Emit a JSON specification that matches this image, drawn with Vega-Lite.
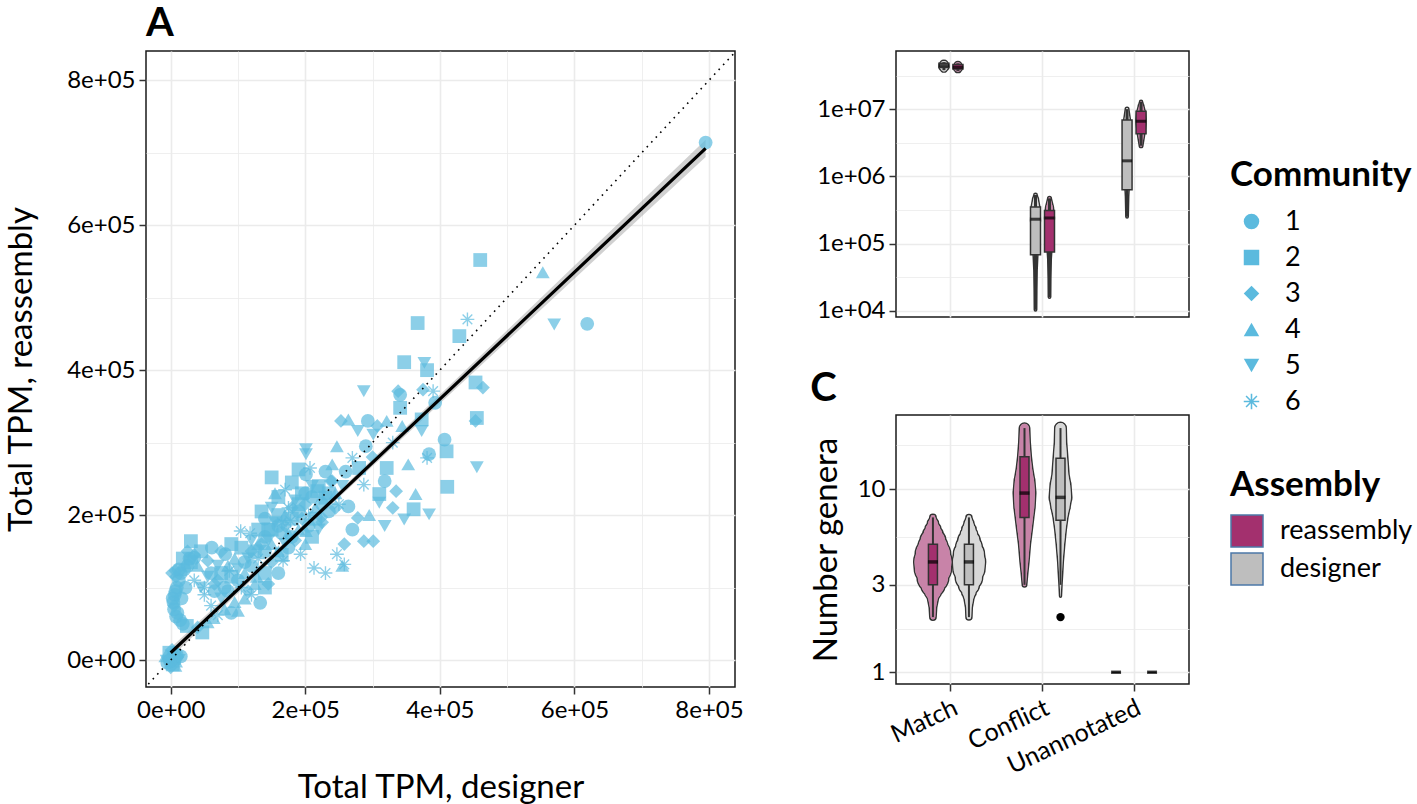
{
"$schema": "https://vega.github.io/schema/vega-lite/v6.json",
"background": "white",
"padding": {"left": 4, "top": 3, "right": 0, "bottom": 0},
"bounds": "flush",
"spacing": 161,
"config": {
  "font": "Lato",
  "view": {"stroke": "#1A1A1A", "strokeWidth": 1.5},
  "axis": {"gridColor": "#EBEBEB", "domain": false, "tickColor": "#333333", "tickSize": 7, "tickWidth": 1.5, "labelColor": "#000000", "labelFontSize": 24, "labelPadding": 4, "titleFontSize": 33, "titleFontWeight": "normal", "titleColor": "#000000", "labelOverlap": false, "labelFlush": false},
  "legend": {"titleFontSize": 35, "titleFontWeight": "bold", "titleColor": "#000000", "labelFontSize": 27, "labelColor": "#000000", "titleLimit": 400, "labelLimit": 300},
  "title": {"fontSize": 40, "fontWeight": "bold", "anchor": "start", "color": "#000000"}
},
"datasets": {
  "scatter": [
    {"designer":2000,"reassembly":1000,"community":"1"},{"designer":5000,"reassembly":3000,"community":"2"},{"designer":-3000,"reassembly":2000,"community":"3"},{"designer":8000,"reassembly":-2000,"community":"4"},{"designer":1000,"reassembly":6000,"community":"5"},{"designer":-5000,"reassembly":-4000,"community":"1"},{"designer":10000,"reassembly":4000,"community":"3"},{"designer":3000,"reassembly":-6000,"community":"2"},{"designer":-8000,"reassembly":5000,"community":"4"},{"designer":6000,"reassembly":9000,"community":"1"},{"designer":12000,"reassembly":0,"community":"5"},{"designer":0,"reassembly":-10000,"community":"3"},{"designer":-2000,"reassembly":10000,"community":"2"},{"designer":4000,"reassembly":2000,"community":"6"},{"designer":9000,"reassembly":7000,"community":"1"},{"designer":-6000,"reassembly":-1000,"community":"5"},{"designer":15000,"reassembly":5000,"community":"1"},{"designer":7000,"reassembly":-8000,"community":"4"},{"designer":2000,"reassembly":14000,"community":"3"},{"designer":-1000,"reassembly":-2000,"community":"1"},
    {"designer":8000,"reassembly":60000,"community":"1"},{"designer":5000,"reassembly":70000,"community":"1"},{"designer":4000,"reassembly":80000,"community":"1"},{"designer":6000,"reassembly":90000,"community":"1"},{"designer":9000,"reassembly":100000,"community":"1"},{"designer":12000,"reassembly":110000,"community":"1"},{"designer":5000,"reassembly":75000,"community":"3"},{"designer":14000,"reassembly":55000,"community":"1"},{"designer":18000,"reassembly":50000,"community":"1"},{"designer":10000,"reassembly":65000,"community":"1"},{"designer":3000,"reassembly":85000,"community":"1"},{"designer":7000,"reassembly":95000,"community":"1"},{"designer":15000,"reassembly":120000,"community":"1"},{"designer":20000,"reassembly":125000,"community":"1"},{"designer":25000,"reassembly":130000,"community":"1"},{"designer":8000,"reassembly":115000,"community":"3"},{"designer":2000,"reassembly":120000,"community":"3"},{"designer":12000,"reassembly":125000,"community":"1"},{"designer":18000,"reassembly":140000,"community":"2"},{"designer":28000,"reassembly":140000,"community":"1"},{"designer":30000,"reassembly":164000,"community":"2"},{"designer":35000,"reassembly":145000,"community":"3"},{"designer":22000,"reassembly":100000,"community":"1"},{"designer":16000,"reassembly":85000,"community":"1"},
    {"designer":24000,"reassembly":47000,"community":"2"},{"designer":47000,"reassembly":38000,"community":"2"},{"designer":40000,"reassembly":45000,"community":"3"},{"designer":55000,"reassembly":52000,"community":"4"},{"designer":64000,"reassembly":58000,"community":"4"},{"designer":70000,"reassembly":62000,"community":"6"},{"designer":80000,"reassembly":70000,"community":"4"},{"designer":90000,"reassembly":65000,"community":"1"},{"designer":100000,"reassembly":68000,"community":"4"},{"designer":95000,"reassembly":80000,"community":"4"},{"designer":110000,"reassembly":85000,"community":"4"},{"designer":120000,"reassembly":90000,"community":"6"},{"designer":133000,"reassembly":79000,"community":"1"},{"designer":60000,"reassembly":75000,"community":"6"},{"designer":75000,"reassembly":85000,"community":"5"},{"designer":85000,"reassembly":95000,"community":"1"},{"designer":105000,"reassembly":100000,"community":"6"},{"designer":115000,"reassembly":95000,"community":"3"},{"designer":125000,"reassembly":105000,"community":"4"},{"designer":140000,"reassembly":100000,"community":"2"},{"designer":50000,"reassembly":90000,"community":"6"},{"designer":45000,"reassembly":100000,"community":"5"},{"designer":35000,"reassembly":110000,"community":"6"},{"designer":65000,"reassembly":105000,"community":"3"},
    {"designer":7000,"reassembly":123000,"community":"3"},{"designer":55000,"reassembly":137000,"community":"3"},{"designer":61000,"reassembly":155000,"community":"1"},{"designer":81000,"reassembly":146000,"community":"1"},{"designer":35000,"reassembly":141000,"community":"1"},{"designer":50000,"reassembly":100000,"community":"6"},{"designer":87000,"reassembly":123000,"community":"6"},{"designer":104000,"reassembly":178000,"community":"6"},{"designer":40000,"reassembly":130000,"community":"4"},{"designer":70000,"reassembly":130000,"community":"5"},{"designer":95000,"reassembly":140000,"community":"4"},{"designer":90000,"reassembly":160000,"community":"2"},{"designer":75000,"reassembly":150000,"community":"3"},{"designer":45000,"reassembly":150000,"community":"2"},{"designer":25000,"reassembly":150000,"community":"3"},{"designer":30000,"reassembly":135000,"community":"2"},
    {"designer":110000,"reassembly":120000,"community":"4"},{"designer":120000,"reassembly":130000,"community":"1"},{"designer":125000,"reassembly":150000,"community":"2"},{"designer":130000,"reassembly":140000,"community":"6"},{"designer":135000,"reassembly":160000,"community":"3"},{"designer":140000,"reassembly":170000,"community":"1"},{"designer":145000,"reassembly":180000,"community":"2"},{"designer":150000,"reassembly":160000,"community":"4"},{"designer":155000,"reassembly":190000,"community":"5"},{"designer":160000,"reassembly":200000,"community":"2"},{"designer":165000,"reassembly":175000,"community":"1"},{"designer":170000,"reassembly":185000,"community":"3"},{"designer":175000,"reassembly":210000,"community":"6"},{"designer":180000,"reassembly":195000,"community":"2"},{"designer":185000,"reassembly":220000,"community":"5"},{"designer":190000,"reassembly":205000,"community":"1"},{"designer":195000,"reassembly":230000,"community":"2"},{"designer":200000,"reassembly":215000,"community":"3"},{"designer":205000,"reassembly":200000,"community":"6"},{"designer":210000,"reassembly":225000,"community":"1"},{"designer":215000,"reassembly":210000,"community":"4"},{"designer":220000,"reassembly":240000,"community":"2"},{"designer":225000,"reassembly":190000,"community":"3"},{"designer":230000,"reassembly":224000,"community":"2"},{"designer":235000,"reassembly":205000,"community":"1"},{"designer":240000,"reassembly":247000,"community":"3"},{"designer":245000,"reassembly":230000,"community":"4"},{"designer":250000,"reassembly":215000,"community":"6"},{"designer":255000,"reassembly":240000,"community":"5"},{"designer":150000,"reassembly":252000,"community":"2"},{"designer":190000,"reassembly":263000,"community":"2"},{"designer":207000,"reassembly":265000,"community":"6"},{"designer":201000,"reassembly":256000,"community":"1"},{"designer":218000,"reassembly":233000,"community":"2"},{"designer":238000,"reassembly":247000,"community":"3"},{"designer":201000,"reassembly":284000,"community":"5"},{"designer":201000,"reassembly":291000,"community":"5"},{"designer":178000,"reassembly":192000,"community":"6"},{"designer":201000,"reassembly":178000,"community":"4"},{"designer":224000,"reassembly":197000,"community":"3"},{"designer":193000,"reassembly":146000,"community":"6"},{"designer":167000,"reassembly":137000,"community":"6"},{"designer":213000,"reassembly":127000,"community":"6"},{"designer":230000,"reassembly":120000,"community":"6"},{"designer":247000,"reassembly":146000,"community":"6"},{"designer":258000,"reassembly":132000,"community":"6"},{"designer":255000,"reassembly":130000,"community":"4"},{"designer":160000,"reassembly":150000,"community":"4"},{"designer":170000,"reassembly":160000,"community":"5"},{"designer":180000,"reassembly":170000,"community":"1"},{"designer":190000,"reassembly":180000,"community":"4"},{"designer":140000,"reassembly":120000,"community":"2"},{"designer":150000,"reassembly":135000,"community":"3"},{"designer":165000,"reassembly":145000,"community":"2"},{"designer":175000,"reassembly":155000,"community":"1"},{"designer":185000,"reassembly":165000,"community":"3"},{"designer":120000,"reassembly":165000,"community":"5"},{"designer":130000,"reassembly":180000,"community":"2"},{"designer":140000,"reassembly":195000,"community":"1"},{"designer":150000,"reassembly":210000,"community":"5"},{"designer":160000,"reassembly":225000,"community":"2"},{"designer":170000,"reassembly":235000,"community":"6"},{"designer":180000,"reassembly":245000,"community":"2"},{"designer":115000,"reassembly":140000,"community":"5"},{"designer":128000,"reassembly":115000,"community":"4"},{"designer":145000,"reassembly":105000,"community":"3"},{"designer":160000,"reassembly":120000,"community":"1"},{"designer":200000,"reassembly":160000,"community":"4"},{"designer":210000,"reassembly":170000,"community":"2"},{"designer":220000,"reassembly":180000,"community":"5"},{"designer":105000,"reassembly":155000,"community":"2"},{"designer":118000,"reassembly":175000,"community":"6"},{"designer":135000,"reassembly":205000,"community":"2"},{"designer":155000,"reassembly":230000,"community":"4"},
    {"designer":60000,"reassembly":120000,"community":"1"},{"designer":70000,"reassembly":110000,"community":"3"},{"designer":80000,"reassembly":100000,"community":"1"},{"designer":90000,"reassembly":115000,"community":"2"},{"designer":100000,"reassembly":125000,"community":"5"},{"designer":110000,"reassembly":135000,"community":"1"},{"designer":120000,"reassembly":150000,"community":"3"},{"designer":130000,"reassembly":160000,"community":"4"},{"designer":140000,"reassembly":150000,"community":"1"},{"designer":150000,"reassembly":180000,"community":"2"},{"designer":160000,"reassembly":185000,"community":"1"},{"designer":170000,"reassembly":200000,"community":"4"},{"designer":180000,"reassembly":210000,"community":"3"},{"designer":190000,"reassembly":215000,"community":"2"},{"designer":200000,"reassembly":230000,"community":"1"},{"designer":210000,"reassembly":240000,"community":"5"},{"designer":225000,"reassembly":215000,"community":"1"},{"designer":235000,"reassembly":230000,"community":"2"},{"designer":245000,"reassembly":210000,"community":"3"},{"designer":100000,"reassembly":110000,"community":"1"},{"designer":85000,"reassembly":130000,"community":"4"},{"designer":65000,"reassembly":95000,"community":"1"},{"designer":55000,"reassembly":115000,"community":"5"},{"designer":75000,"reassembly":120000,"community":"2"},{"designer":195000,"reassembly":195000,"community":"3"},{"designer":205000,"reassembly":185000,"community":"1"},{"designer":215000,"reassembly":195000,"community":"2"},{"designer":175000,"reassembly":175000,"community":"4"},{"designer":165000,"reassembly":190000,"community":"6"},{"designer":145000,"reassembly":165000,"community":"5"},
    {"designer":253000,"reassembly":330000,"community":"3"},{"designer":264000,"reassembly":332000,"community":"4"},{"designer":293000,"reassembly":330000,"community":"1"},{"designer":307000,"reassembly":323000,"community":"3"},{"designer":321000,"reassembly":330000,"community":"4"},{"designer":344000,"reassembly":323000,"community":"4"},{"designer":373000,"reassembly":332000,"community":"2"},{"designer":278000,"reassembly":316000,"community":"5"},{"designer":301000,"reassembly":311000,"community":"5"},{"designer":373000,"reassembly":316000,"community":"5"},{"designer":247000,"reassembly":295000,"community":"4"},{"designer":290000,"reassembly":295000,"community":"1"},{"designer":407000,"reassembly":304000,"community":"1"},{"designer":384000,"reassembly":284000,"community":"1"},{"designer":381000,"reassembly":279000,"community":"6"},{"designer":410000,"reassembly":288000,"community":"2"},{"designer":270000,"reassembly":279000,"community":"6"},{"designer":353000,"reassembly":270000,"community":"4"},{"designer":321000,"reassembly":265000,"community":"2"},{"designer":318000,"reassembly":247000,"community":"1"},{"designer":287000,"reassembly":242000,"community":"6"},{"designer":264000,"reassembly":212000,"community":"1"},{"designer":310000,"reassembly":229000,"community":"2"},{"designer":335000,"reassembly":233000,"community":"3"},{"designer":364000,"reassembly":229000,"community":"4"},{"designer":411000,"reassembly":239000,"community":"2"},{"designer":287000,"reassembly":371000,"community":"5"},{"designer":338000,"reassembly":371000,"community":"3"},{"designer":341000,"reassembly":366000,"community":"1"},{"designer":375000,"reassembly":373000,"community":"3"},{"designer":390000,"reassembly":371000,"community":"6"},{"designer":341000,"reassembly":348000,"community":"2"},{"designer":393000,"reassembly":355000,"community":"1"},{"designer":347000,"reassembly":411000,"community":"2"},{"designer":377000,"reassembly":410000,"community":"5"},{"designer":381000,"reassembly":400000,"community":"2"},{"designer":260000,"reassembly":260000,"community":"1"},{"designer":280000,"reassembly":265000,"community":"2"},{"designer":300000,"reassembly":280000,"community":"3"},{"designer":240000,"reassembly":270000,"community":"4"},{"designer":230000,"reassembly":260000,"community":"1"},{"designer":330000,"reassembly":300000,"community":"6"},
    {"designer":310000,"reassembly":217000,"community":"5"},{"designer":361000,"reassembly":208000,"community":"2"},{"designer":384000,"reassembly":201000,"community":"5"},{"designer":347000,"reassembly":194000,"community":"5"},{"designer":318000,"reassembly":185000,"community":"5"},{"designer":278000,"reassembly":196000,"community":"3"},{"designer":258000,"reassembly":160000,"community":"3"},{"designer":287000,"reassembly":164000,"community":"3"},{"designer":301000,"reassembly":164000,"community":"3"},{"designer":270000,"reassembly":180000,"community":"1"},{"designer":295000,"reassembly":200000,"community":"4"},{"designer":330000,"reassembly":210000,"community":"3"},{"designer":455000,"reassembly":266000,"community":"5"},
    {"designer":453000,"reassembly":383000,"community":"2"},{"designer":464000,"reassembly":376000,"community":"3"},{"designer":455000,"reassembly":334000,"community":"2"},{"designer":453000,"reassembly":330000,"community":"3"},{"designer":429000,"reassembly":447000,"community":"2"},{"designer":367000,"reassembly":465000,"community":"2"},{"designer":441000,"reassembly":470000,"community":"6"},{"designer":460000,"reassembly":552000,"community":"2"},{"designer":553000,"reassembly":535000,"community":"4"},{"designer":570000,"reassembly":463000,"community":"5"},{"designer":619000,"reassembly":464000,"community":"1"},{"designer":795000,"reassembly":714000,"community":"1"}
  ],
  "fit": [
    {"designer": 0, "reassembly": 10000, "lo": 3000, "hi": 17000},
    {"designer": 200000, "reassembly": 185000, "lo": 181000, "hi": 189000},
    {"designer": 400000, "reassembly": 360000, "lo": 354000, "hi": 366000},
    {"designer": 795000, "reassembly": 706000, "lo": 694000, "hi": 718000}
  ],
  "ident": [
    {"designer": -40000, "reassembly": -40000},
    {"designer": 850000, "reassembly": 850000}
  ],
  "boxB": [
    {"category":"Match","assembly":"designer","lower":38000000,"q1":41500000,"median":44500000,"q3":48000000,"upper":50000000},
    {"category":"Match","assembly":"reassembly","lower":37000000,"q1":39500000,"median":42000000,"q3":46000000,"upper":48000000},
    {"category":"Conflict","assembly":"designer","lower":10300,"q1":68000,"median":230000,"q3":350000,"upper":530000},
    {"category":"Conflict","assembly":"reassembly","lower":16000,"q1":75000,"median":240000,"q3":310000,"upper":470000},
    {"category":"Unannotated","assembly":"designer","lower":250000,"q1":630000,"median":1700000,"q3":6900000,"upper":10000000},
    {"category":"Unannotated","assembly":"reassembly","lower":2850000,"q1":4300000,"median":6600000,"q3":9300000,"upper":12900000}
  ],
  "violinB": [
    {"category":"Match","assembly":"designer","value":38000000,"density":0.05},{"category":"Match","assembly":"designer","value":40000000,"density":0.18},{"category":"Match","assembly":"designer","value":43000000,"density":0.28},{"category":"Match","assembly":"designer","value":46000000,"density":0.24},{"category":"Match","assembly":"designer","value":49000000,"density":0.12},{"category":"Match","assembly":"designer","value":50000000,"density":0.04},
    {"category":"Match","assembly":"reassembly","value":37000000,"density":0.04},{"category":"Match","assembly":"reassembly","value":39000000,"density":0.16},{"category":"Match","assembly":"reassembly","value":42000000,"density":0.27},{"category":"Match","assembly":"reassembly","value":45000000,"density":0.2},{"category":"Match","assembly":"reassembly","value":48000000,"density":0.05},
    {"category":"Conflict","assembly":"designer","value":10300,"density":0.03},{"category":"Conflict","assembly":"designer","value":20000,"density":0.04},{"category":"Conflict","assembly":"designer","value":40000,"density":0.06},{"category":"Conflict","assembly":"designer","value":70000,"density":0.11},{"category":"Conflict","assembly":"designer","value":120000,"density":0.18},{"category":"Conflict","assembly":"designer","value":220000,"density":0.28},{"category":"Conflict","assembly":"designer","value":350000,"density":0.24},{"category":"Conflict","assembly":"designer","value":450000,"density":0.15},{"category":"Conflict","assembly":"designer","value":530000,"density":0.06},
    {"category":"Conflict","assembly":"reassembly","value":16000,"density":0.03},{"category":"Conflict","assembly":"reassembly","value":30000,"density":0.04},{"category":"Conflict","assembly":"reassembly","value":60000,"density":0.07},{"category":"Conflict","assembly":"reassembly","value":100000,"density":0.14},{"category":"Conflict","assembly":"reassembly","value":240000,"density":0.28},{"category":"Conflict","assembly":"reassembly","value":350000,"density":0.21},{"category":"Conflict","assembly":"reassembly","value":470000,"density":0.07},
    {"category":"Unannotated","assembly":"designer","value":250000,"density":0.03},{"category":"Unannotated","assembly":"designer","value":500000,"density":0.06},{"category":"Unannotated","assembly":"designer","value":1000000,"density":0.13},{"category":"Unannotated","assembly":"designer","value":1700000,"density":0.2},{"category":"Unannotated","assembly":"designer","value":4000000,"density":0.22},{"category":"Unannotated","assembly":"designer","value":7000000,"density":0.17},{"category":"Unannotated","assembly":"designer","value":10000000,"density":0.07},
    {"category":"Unannotated","assembly":"reassembly","value":2850000,"density":0.07},{"category":"Unannotated","assembly":"reassembly","value":4000000,"density":0.18},{"category":"Unannotated","assembly":"reassembly","value":6600000,"density":0.3},{"category":"Unannotated","assembly":"reassembly","value":9000000,"density":0.24},{"category":"Unannotated","assembly":"reassembly","value":11000000,"density":0.14},{"category":"Unannotated","assembly":"reassembly","value":12900000,"density":0.05}
  ],
  "boxC": [
    {"category":"Match","assembly":"reassembly","lower":2,"q1":3,"median":4,"q3":5,"upper":7},
    {"category":"Match","assembly":"designer","lower":2,"q1":3,"median":4,"q3":5,"upper":7},
    {"category":"Conflict","assembly":"reassembly","lower":3,"q1":7,"median":9.5,"q3":15,"upper":21.5},
    {"category":"Conflict","assembly":"designer","lower":3,"q1":6.75,"median":9,"q3":14.7,"upper":21.5},
    {"category":"Unannotated","assembly":"reassembly","lower":1,"q1":1,"median":1,"q3":1,"upper":1},
    {"category":"Unannotated","assembly":"designer","lower":1,"q1":1,"median":1,"q3":1,"upper":1}
  ],
  "outC": [
    {"category":"Conflict","assembly":"designer","value":2}
  ],
  "violinC": [
    {"category":"Match","assembly":"reassembly","value":2,"density":0.13},{"category":"Match","assembly":"reassembly","value":2.25,"density":0.16},{"category":"Match","assembly":"reassembly","value":2.5,"density":0.25},{"category":"Match","assembly":"reassembly","value":2.75,"density":0.42},{"category":"Match","assembly":"reassembly","value":3,"density":0.62},{"category":"Match","assembly":"reassembly","value":3.3,"density":0.82},{"category":"Match","assembly":"reassembly","value":3.7,"density":0.97},{"category":"Match","assembly":"reassembly","value":4,"density":1.0},{"category":"Match","assembly":"reassembly","value":4.4,"density":0.92},{"category":"Match","assembly":"reassembly","value":4.8,"density":0.78},{"category":"Match","assembly":"reassembly","value":5.2,"density":0.66},{"category":"Match","assembly":"reassembly","value":5.6,"density":0.52},{"category":"Match","assembly":"reassembly","value":6,"density":0.4},{"category":"Match","assembly":"reassembly","value":6.5,"density":0.26},{"category":"Match","assembly":"reassembly","value":7,"density":0.13},
    {"category":"Match","assembly":"designer","value":2,"density":0.12},{"category":"Match","assembly":"designer","value":2.25,"density":0.14},{"category":"Match","assembly":"designer","value":2.5,"density":0.22},{"category":"Match","assembly":"designer","value":2.75,"density":0.36},{"category":"Match","assembly":"designer","value":3,"density":0.53},{"category":"Match","assembly":"designer","value":3.3,"density":0.7},{"category":"Match","assembly":"designer","value":3.7,"density":0.83},{"category":"Match","assembly":"designer","value":4,"density":0.86},{"category":"Match","assembly":"designer","value":4.4,"density":0.8},{"category":"Match","assembly":"designer","value":4.8,"density":0.68},{"category":"Match","assembly":"designer","value":5.2,"density":0.57},{"category":"Match","assembly":"designer","value":5.6,"density":0.45},{"category":"Match","assembly":"designer","value":6,"density":0.35},{"category":"Match","assembly":"designer","value":6.5,"density":0.23},{"category":"Match","assembly":"designer","value":7,"density":0.12},
    {"category":"Conflict","assembly":"reassembly","value":3,"density":0.08},{"category":"Conflict","assembly":"reassembly","value":3.5,"density":0.14},{"category":"Conflict","assembly":"reassembly","value":4,"density":0.2},{"category":"Conflict","assembly":"reassembly","value":5,"density":0.28},{"category":"Conflict","assembly":"reassembly","value":6,"density":0.38},{"category":"Conflict","assembly":"reassembly","value":7,"density":0.46},{"category":"Conflict","assembly":"reassembly","value":8,"density":0.53},{"category":"Conflict","assembly":"reassembly","value":9.5,"density":0.57},{"category":"Conflict","assembly":"reassembly","value":11,"density":0.52},{"category":"Conflict","assembly":"reassembly","value":13,"density":0.4},{"category":"Conflict","assembly":"reassembly","value":15,"density":0.33},{"category":"Conflict","assembly":"reassembly","value":18,"density":0.27},{"category":"Conflict","assembly":"reassembly","value":21.5,"density":0.24},
    {"category":"Conflict","assembly":"designer","value":2.6,"density":0.01},{"category":"Conflict","assembly":"designer","value":3,"density":0.04},{"category":"Conflict","assembly":"designer","value":3.5,"density":0.08},{"category":"Conflict","assembly":"designer","value":4,"density":0.11},{"category":"Conflict","assembly":"designer","value":5,"density":0.19},{"category":"Conflict","assembly":"designer","value":6,"density":0.27},{"category":"Conflict","assembly":"designer","value":7,"density":0.36},{"category":"Conflict","assembly":"designer","value":8,"density":0.48},{"category":"Conflict","assembly":"designer","value":9,"density":0.57},{"category":"Conflict","assembly":"designer","value":10.5,"density":0.52},{"category":"Conflict","assembly":"designer","value":12,"density":0.42},{"category":"Conflict","assembly":"designer","value":15,"density":0.35},{"category":"Conflict","assembly":"designer","value":18,"density":0.29},{"category":"Conflict","assembly":"designer","value":21.5,"density":0.27}
  ]
},
"hconcat": [
  {
    "width": 589, "height": 636,
    "title": {"text": "A", "frame": "group", "offset": 7},
    "encoding": {
      "x": {"field": "designer", "type": "quantitative", "title": "Total TPM, designer",
        "scale": {"domain": [-36730, 838660], "nice": false, "zero": false},
        "axis": {"values": [0,100000,200000,300000,400000,500000,600000,700000,800000],
          "labelExpr": "datum.value === 0 ? '0e+00' : (datum.value % 200000 === 0 ? (datum.value / 100000) + 'e+05' : '')",
          "gridWidth": {"condition": {"test": "datum.value % 200000 === 0", "value": 1.6}, "value": 0.8},
          "tickOpacity": {"condition": {"test": "datum.value % 200000 === 0", "value": 1}, "value": 0},
          "titlePadding": 49}},
      "y": {"field": "reassembly", "type": "quantitative", "title": "Total TPM, reassembly",
        "scale": {"domain": [-37260, 840440], "nice": false, "zero": false},
        "axis": {"values": [0,100000,200000,300000,400000,500000,600000,700000,800000],
          "labelExpr": "datum.value === 0 ? '0e+00' : (datum.value % 200000 === 0 ? (datum.value / 100000) + 'e+05' : '')",
          "gridWidth": {"condition": {"test": "datum.value % 200000 === 0", "value": 1.6}, "value": 0.8},
          "tickOpacity": {"condition": {"test": "datum.value % 200000 === 0", "value": 1}, "value": 0},
          "titlePadding": 28}}
    },
    "layer": [
      {"data": {"name": "fit"}, "mark": {"type": "area", "color": "#9A9A9A", "opacity": 0.45},
       "encoding": {"y": {"field": "lo", "type": "quantitative", "title": "Total TPM, reassembly", "scale": {"domain": [-37260, 840440], "nice": false, "zero": false}}, "y2": {"field": "hi"}}},
      {"data": {"name": "scatter"}, "mark": {"type": "point", "filled": true, "fill": "#5BBADE", "opacity": 0.7, "size": 190},
       "encoding": {"shape": {"field": "community", "type": "nominal",
         "scale": {"domain": ["1","2","3","4","5","6"], "range": ["circle","square","diamond","triangle-up","triangle-down","M-0.1,-1L0.1,-1L0.1,1L-0.1,1ZM-1,-0.1L1,-0.1L1,0.1L-1,0.1ZM-0.63,-0.77L0.77,0.63L0.63,0.77L-0.77,-0.63ZM-0.77,0.63L0.63,-0.77L0.77,-0.63L-0.63,0.77Z"]},
         "legend": {"title": "Community", "orient": "none", "legendX": 1084, "legendY": 107, "symbolSize": 240, "symbolFillColor": "#8FCFE8", "symbolOpacity": 1, "symbolOffset": 8, "rowPadding": 8, "titlePadding": 15, "labelOffset": 20}}}},
      {"data": {"name": "fit"}, "mark": {"type": "line", "color": "#000000", "strokeWidth": 3.2}, "encoding": {}},
      {"data": {"name": "ident"}, "mark": {"type": "line", "color": "#000000", "strokeWidth": 1.6, "strokeDash": [1.6, 5], "clip": true}, "encoding": {}}
    ]
  },
  {
    "vconcat": [
      {
        "width": 293, "height": 266,
        "encoding": {
          "x": {"field": "category", "type": "nominal", "title": null,
            "scale": {"type": "band", "domain": ["Match","Conflict","Unannotated"], "paddingInner": 0, "paddingOuter": 0.1},
            "axis": {"labels": false, "ticks": false, "grid": true, "gridWidth": 1.6}},
          "xOffset": {"field": "assembly", "type": "nominal", "scale": {"domain": ["designer","reassembly"], "paddingInner": 0, "paddingOuter": 0, "range": [31.78, 59.78]}}
        },
        "layer": [
          {"data": {"name": "violinB"}, "mark": {"type": "trail", "fill": "#333333"},
           "encoding": {
             "y": {"field": "value", "type": "quantitative", "title": null,
               "scale": {"type": "log", "domain": [8060, 73300000], "nice": false},
               "axis": {"values": [10000, 31623, 100000, 316228, 1000000, 3162278, 10000000, 31622777],
                 "labelExpr": "datum.value === 10000 ? '1e+04' : datum.value === 100000 ? '1e+05' : datum.value === 1000000 ? '1e+06' : datum.value === 10000000 ? '1e+07' : ''",
                 "gridWidth": {"condition": {"test": "datum.value === 10000 || datum.value === 100000 || datum.value === 1000000 || datum.value === 10000000", "value": 1.6}, "value": 0.8},
                 "tickOpacity": {"condition": {"test": "datum.value === 10000 || datum.value === 100000 || datum.value === 1000000 || datum.value === 10000000", "value": 1}, "value": 0}}},
             "size": {"field": "density", "type": "quantitative", "scale": {"domain": [0, 1], "range": [3, 33]}, "legend": null},
             "detail": [{"field": "category", "type": "nominal"}, {"field": "assembly", "type": "nominal"}],
             "order": {"field": "value", "type": "quantitative"}}},
          {"data": {"name": "violinB"}, "mark": {"type": "trail", "fill": "#FFFFFF"},
           "encoding": {
             "y": {"field": "value", "type": "quantitative", "title": null, "scale": {"type": "log", "domain": [8060, 73300000], "nice": false}},
             "size": {"field": "density", "type": "quantitative", "scale": {"domain": [0, 1], "range": [0, 30]}, "legend": null},
             "detail": [{"field": "category", "type": "nominal"}, {"field": "assembly", "type": "nominal"}],
             "order": {"field": "value", "type": "quantitative"}}},
          {"data": {"name": "violinB"}, "mark": {"type": "trail", "fillOpacity": 0.6},
           "encoding": {
             "y": {"field": "value", "type": "quantitative", "title": null, "scale": {"type": "log", "domain": [8060, 73300000], "nice": false}},
             "size": {"field": "density", "type": "quantitative", "scale": {"domain": [0, 1], "range": [0, 30]}, "legend": null},
             "fill": {"field": "assembly", "type": "nominal", "scale": {"domain": ["reassembly","designer"], "range": ["#A3306E","#BEBEBE"]}},
             "detail": [{"field": "category", "type": "nominal"}, {"field": "assembly", "type": "nominal"}],
             "order": {"field": "value", "type": "quantitative"}}},
          {"data": {"name": "boxB"}, "mark": {"type": "rule", "color": "#333333", "strokeWidth": 3},
           "encoding": {
             "y": {"field": "lower", "type": "quantitative", "title": null, "scale": {"type": "log", "domain": [8060, 73300000], "nice": false}},
             "y2": {"field": "upper"}}},
          {"data": {"name": "boxB"}, "mark": {"type": "bar", "width": 10, "stroke": "#333333", "strokeWidth": 1.5},
           "encoding": {
             "y": {"field": "q1", "type": "quantitative", "title": null, "scale": {"type": "log", "domain": [8060, 73300000], "nice": false}},
             "y2": {"field": "q3"},
             "fill": {"field": "assembly", "type": "nominal", "scale": {"domain": ["reassembly","designer"], "range": ["#A3306E","#BEBEBE"]},
               "legend": {"title": "Assembly", "orient": "none", "legendX": 1084, "legendY": 417, "symbolType": "square", "symbolSize": 1024, "symbolStrokeColor": "#333333", "symbolStrokeWidth": 1.5, "symbolOpacity": 1, "rowPadding": 0, "titlePadding": 11, "labelOffset": 16}}}},
          {"data": {"name": "boxB"}, "mark": {"type": "tick", "color": "#000000", "thickness": 3, "size": 10},
           "encoding": {
             "y": {"field": "median", "type": "quantitative", "title": null, "scale": {"type": "log", "domain": [8060, 73300000], "nice": false}}}}
        ],
        "resolve": {"scale": {"size": "independent"}}
      },
      {
        "width": 293, "height": 269,
        "title": {"text": "C", "frame": "bounds", "offset": 6},
        "encoding": {
          "x": {"field": "category", "type": "nominal", "title": null,
            "scale": {"type": "band", "domain": ["Match","Conflict","Unannotated"], "paddingInner": 0, "paddingOuter": 0.1},
            "axis": {"grid": true, "gridWidth": 1.6, "labelAngle": -25, "labelAlign": "right", "labelBaseline": "top", "labelFontSize": 25}},
          "xOffset": {"field": "assembly", "type": "nominal", "scale": {"domain": ["reassembly","designer"], "paddingInner": 0, "paddingOuter": 0, "range": [9.78, 81.78]}}
        },
        "layer": [
          {"data": {"name": "violinC"}, "mark": {"type": "trail", "fill": "#333333"},
           "encoding": {
             "y": {"field": "value", "type": "quantitative", "title": "Number genera",
               "scale": {"type": "log", "domain": [0.863, 25.34], "nice": false},
               "axis": {"values": [1, 1.7321, 3, 5.4772, 10, 17.3205], "titlePadding": 14,
                 "labelExpr": "(datum.value === 1 || datum.value === 3 || datum.value === 10) ? '' + datum.value : ''",
                 "gridWidth": {"condition": {"test": "datum.value === 1 || datum.value === 3 || datum.value === 10", "value": 1.6}, "value": 0.8},
                 "tickOpacity": {"condition": {"test": "datum.value === 1 || datum.value === 3 || datum.value === 10", "value": 1}, "value": 0}}},
             "size": {"field": "density", "type": "quantitative", "scale": {"domain": [0, 1], "range": [3, 40]}, "legend": null},
             "detail": [{"field": "category", "type": "nominal"}, {"field": "assembly", "type": "nominal"}],
             "order": {"field": "value", "type": "quantitative"}}},
          {"data": {"name": "violinC"}, "mark": {"type": "trail", "fill": "#FFFFFF"},
           "encoding": {
             "y": {"field": "value", "type": "quantitative", "title": "Number genera", "scale": {"type": "log", "domain": [0.863, 25.34], "nice": false}},
             "size": {"field": "density", "type": "quantitative", "scale": {"domain": [0, 1], "range": [0, 37]}, "legend": null},
             "detail": [{"field": "category", "type": "nominal"}, {"field": "assembly", "type": "nominal"}],
             "order": {"field": "value", "type": "quantitative"}}},
          {"data": {"name": "violinC"}, "mark": {"type": "trail", "fillOpacity": 0.6},
           "encoding": {
             "y": {"field": "value", "type": "quantitative", "title": "Number genera", "scale": {"type": "log", "domain": [0.863, 25.34], "nice": false}},
             "size": {"field": "density", "type": "quantitative", "scale": {"domain": [0, 1], "range": [0, 37]}, "legend": null},
             "fill": {"field": "assembly", "type": "nominal", "scale": {"domain": ["reassembly","designer"], "range": ["#A3306E","#BEBEBE"]}},
             "detail": [{"field": "category", "type": "nominal"}, {"field": "assembly", "type": "nominal"}],
             "order": {"field": "value", "type": "quantitative"}}},
          {"data": {"name": "boxC"}, "mark": {"type": "rule", "color": "#333333", "strokeWidth": 2},
           "encoding": {
             "y": {"field": "lower", "type": "quantitative", "title": "Number genera", "scale": {"type": "log", "domain": [0.863, 25.34], "nice": false}},
             "y2": {"field": "upper"}}},
          {"data": {"name": "boxC"}, "mark": {"type": "bar", "width": 9, "stroke": "#333333", "strokeWidth": 1.5},
           "encoding": {
             "y": {"field": "q1", "type": "quantitative", "title": "Number genera", "scale": {"type": "log", "domain": [0.863, 25.34], "nice": false}},
             "y2": {"field": "q3"},
             "fill": {"field": "assembly", "type": "nominal", "scale": {"domain": ["reassembly","designer"], "range": ["#A3306E","#BEBEBE"]}}}},
          {"data": {"name": "boxC"}, "mark": {"type": "tick", "color": "#000000", "thickness": 3.5, "size": 10},
           "encoding": {
             "y": {"field": "median", "type": "quantitative", "title": "Number genera", "scale": {"type": "log", "domain": [0.863, 25.34], "nice": false}}}},
          {"data": {"name": "outC"}, "mark": {"type": "point", "filled": true, "color": "#000000", "size": 70, "opacity": 1},
           "encoding": {
             "y": {"field": "value", "type": "quantitative", "title": "Number genera", "scale": {"type": "log", "domain": [0.863, 25.34], "nice": false}}}}
        ],
        "resolve": {"scale": {"size": "independent"}}
      }
    ],
    "spacing": 98,
    "bounds": "flush",
    "resolve": {"scale": {"xOffset": "independent"}}
  }
],
"resolve": {"scale": {"shape": "shared", "fill": "shared"}, "legend": {"shape": "shared", "fill": "shared"}}
}
